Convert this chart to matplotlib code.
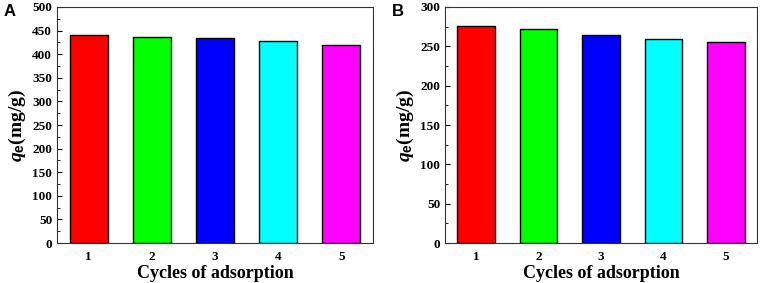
import matplotlib
matplotlib.use("Agg")
import matplotlib.pyplot as plt
from matplotlib.ticker import MultipleLocator

# data
cycles = [1, 2, 3, 4, 5]
qe_A = [440, 437, 434, 428, 420]
qe_B = [276, 272, 264, 259, 256]
bar_colors = ["#ff0000", "#00ff00", "#0000ff", "#00ffff", "#ff00ff"]

plt.rcParams["font.family"] = ["Liberation Serif", "DejaVu Serif"]
plt.rcParams["font.weight"] = "bold"
plt.rcParams["mathtext.fontset"] = "custom"
plt.rcParams["mathtext.rm"] = "Liberation Serif"
plt.rcParams["mathtext.bf"] = "Liberation Sans:bold"
plt.rcParams["mathtext.it"] = "Liberation Serif:italic:bold"

fig = plt.figure(figsize=(7.65, 2.83), dpi=100)
axA = fig.add_axes([0.0745, 0.1413, 0.413, 0.834])
axB = fig.add_axes([0.5817, 0.1413, 0.408, 0.834])


def draw(ax, vals, ymax, label):
    ax.bar(cycles, vals, width=0.6, color=bar_colors, edgecolor="black", linewidth=1)
    ax.set_xlim(0.5, 5.5)
    ax.set_ylim(0, ymax)
    ax.yaxis.set_major_locator(MultipleLocator(50))
    ax.yaxis.set_minor_locator(MultipleLocator(25))
    ax.set_xticks(cycles)
    ax.tick_params(axis="y", which="both", direction="in", labelsize=9.5)
    ax.tick_params(axis="y", which="major", length=3.5)
    ax.tick_params(axis="y", which="minor", length=2)
    ax.tick_params(axis="x", direction="in", length=0, labelsize=9.5, pad=6)
    for t in ax.get_xticklabels() + ax.get_yticklabels():
        t.set_fontweight("bold")
    for s in ax.spines.values():
        s.set_linewidth(0.8)
        s.set_color("#333333")
    ax.set_xlabel("Cycles of adsorption", fontsize=13, fontweight="bold", labelpad=1)
    ax.set_ylabel(r"$q_{\mathbf{e}}$(mg/g)", fontsize=14, fontweight="bold", labelpad=3)
    ax.text(-0.17, 0.979, label, transform=ax.transAxes, fontsize=12,
            fontweight="bold", family="Liberation Sans", va="center", ha="left")


draw(axA, qe_A, 500, "A")
draw(axB, qe_B, 300, "B")

fig.savefig("out.png", dpi=100)
